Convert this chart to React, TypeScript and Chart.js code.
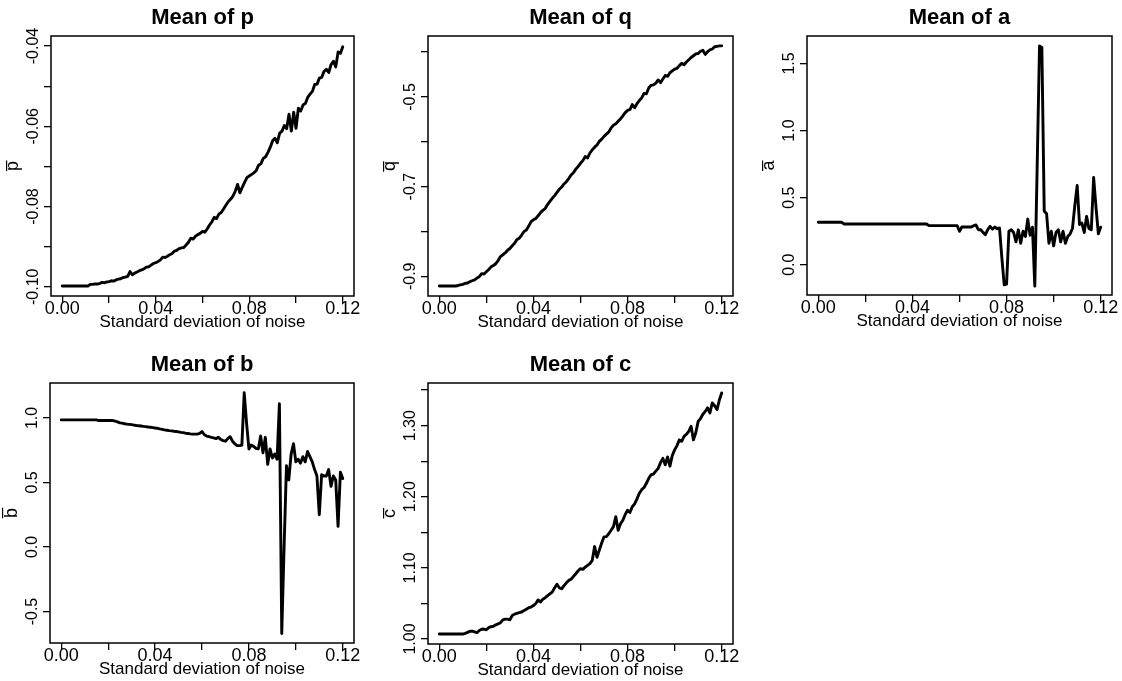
import React, { useEffect, useRef } from 'react';
import { Chart, registerables } from 'chart.js';

Chart.register(...registerables);

// ---------------- data ----------------
const noiseSD = [
  0.000, 0.001, 0.002, 0.003, 0.004, 0.005, 0.006, 0.007, 0.008, 0.009,
  0.010, 0.011, 0.012, 0.013, 0.014, 0.015, 0.016, 0.017, 0.018, 0.019,
  0.020, 0.021, 0.022, 0.023, 0.024, 0.025, 0.026, 0.027, 0.028, 0.029,
  0.030, 0.031, 0.032, 0.033, 0.034, 0.035, 0.036, 0.037, 0.038, 0.039,
  0.040, 0.041, 0.042, 0.043, 0.044, 0.045, 0.046, 0.047, 0.048, 0.049,
  0.050, 0.051, 0.052, 0.053, 0.054, 0.055, 0.056, 0.057, 0.058, 0.059,
  0.060, 0.061, 0.062, 0.063, 0.064, 0.065, 0.066, 0.067, 0.068, 0.069,
  0.070, 0.071, 0.072, 0.073, 0.074, 0.075, 0.076, 0.077, 0.078, 0.079,
  0.080, 0.081, 0.082, 0.083, 0.084, 0.085, 0.086, 0.087, 0.088, 0.089,
  0.090, 0.091, 0.092, 0.093, 0.094, 0.095, 0.096, 0.097, 0.098, 0.099,
  0.100, 0.101, 0.102, 0.103, 0.104, 0.105, 0.106, 0.107, 0.108, 0.109,
  0.110, 0.111, 0.112, 0.113, 0.114, 0.115, 0.116, 0.117, 0.118, 0.119,
  0.120,
];

const meanP = [
  -0.0998, -0.0998, -0.0998, -0.0998, -0.0998, -0.0998, -0.0998, -0.0998, -0.0998, -0.0998,
  -0.0998, -0.0998, -0.0994, -0.0994, -0.0993, -0.0993, -0.0992, -0.0989, -0.0990, -0.0988,
  -0.0987, -0.0985, -0.0986, -0.0983, -0.0981, -0.0980, -0.0977, -0.0976, -0.0974, -0.0962,
  -0.0970, -0.0966, -0.0963, -0.0960, -0.0958, -0.0955, -0.0951, -0.0950, -0.0946, -0.0942,
  -0.0940, -0.0937, -0.0933, -0.0926, -0.0927, -0.0924, -0.0920, -0.0917, -0.0911, -0.0909,
  -0.0905, -0.0903, -0.0902, -0.0896, -0.0889, -0.0879, -0.0881, -0.0874, -0.0870, -0.0867,
  -0.0862, -0.0864, -0.0856, -0.0846, -0.0838, -0.0827, -0.0830, -0.0819, -0.0815, -0.0806,
  -0.0797, -0.0788, -0.0782, -0.0774, -0.0762, -0.0745, -0.0766, -0.0752, -0.0740, -0.0728,
  -0.0724, -0.0720, -0.0716, -0.0710, -0.0697, -0.0693, -0.0680, -0.0676, -0.0665, -0.0652,
  -0.0636, -0.0630, -0.0641, -0.0617, -0.0612, -0.0598, -0.0606, -0.0570, -0.0612, -0.0565,
  -0.0605, -0.0555, -0.0562, -0.0547, -0.0543, -0.0528, -0.0520, -0.0513, -0.0496, -0.0495,
  -0.0480, -0.0478, -0.0463, -0.0458, -0.0466, -0.0446, -0.0438, -0.0452, -0.0415, -0.0418,
  -0.0402,
];

const meanQ = [
  -0.9216, -0.9216, -0.9216, -0.9216, -0.9216, -0.9216, -0.9216, -0.9216, -0.9205, -0.9190,
  -0.9180, -0.9160, -0.9150, -0.9120, -0.9100, -0.9080, -0.9040, -0.9010, -0.8940, -0.8950,
  -0.8900, -0.8850, -0.8790, -0.8760, -0.8720, -0.8650, -0.8560, -0.8520, -0.8480, -0.8420,
  -0.8380, -0.8320, -0.8260, -0.8180, -0.8150, -0.8080, -0.8000, -0.7970, -0.7880, -0.7780,
  -0.7740, -0.7710, -0.7650, -0.7580, -0.7530, -0.7490, -0.7400, -0.7330, -0.7260, -0.7200,
  -0.7130, -0.7060, -0.7010, -0.6940, -0.6890, -0.6820, -0.6740, -0.6690, -0.6610, -0.6550,
  -0.6480, -0.6420, -0.6330, -0.6360, -0.6250, -0.6180, -0.6120, -0.6070, -0.5990, -0.5940,
  -0.5880, -0.5830, -0.5780, -0.5690, -0.5630, -0.5600, -0.5540, -0.5490, -0.5420, -0.5350,
  -0.5300, -0.5280, -0.5170, -0.5240, -0.5150, -0.5080, -0.5020, -0.4920, -0.4930, -0.4800,
  -0.4740, -0.4730, -0.4690, -0.4620, -0.4680, -0.4600, -0.4520, -0.4540, -0.4460, -0.4420,
  -0.4380, -0.4360, -0.4300, -0.4250, -0.4280, -0.4220, -0.4170, -0.4120, -0.4080, -0.4040,
  -0.4030, -0.3980, -0.3960, -0.4050, -0.3990, -0.3950, -0.3930, -0.3880, -0.3870, -0.3860,
  -0.3860,
];

const meanA = [
  0.316, 0.316, 0.316, 0.316, 0.316, 0.316, 0.316, 0.316, 0.316, 0.316,
  0.316, 0.303, 0.303, 0.303, 0.303, 0.303, 0.303, 0.303, 0.303, 0.303,
  0.303, 0.303, 0.303, 0.303, 0.303, 0.303, 0.303, 0.303, 0.303, 0.303,
  0.303, 0.303, 0.303, 0.303, 0.303, 0.303, 0.303, 0.303, 0.303, 0.303,
  0.303, 0.303, 0.303, 0.303, 0.303, 0.303, 0.303, 0.291, 0.291, 0.291,
  0.291, 0.291, 0.291, 0.291, 0.291, 0.291, 0.291, 0.291, 0.291, 0.291,
  0.249, 0.281, 0.281, 0.281, 0.281, 0.281, 0.291, 0.296, 0.261, 0.261,
  0.241, 0.224, 0.261, 0.286, 0.265, 0.281, 0.268, 0.274, 0.050, -0.150,
  -0.145, 0.250, 0.260, 0.240, 0.170, 0.260, 0.160, 0.250, 0.210, 0.340,
  0.220, 0.280, -0.160, 0.730, 1.630, 1.620, 0.400, 0.380, 0.160, 0.250,
  0.140, 0.240, 0.260, 0.170, 0.250, 0.160, 0.210, 0.230, 0.270, 0.440,
  0.590, 0.300, 0.310, 0.240, 0.360, 0.270, 0.260, 0.650, 0.430, 0.230,
  0.280,
];

const meanB = [
  0.985, 0.985, 0.985, 0.985, 0.985, 0.985, 0.985, 0.985, 0.985, 0.985,
  0.985, 0.985, 0.985, 0.985, 0.985, 0.985, 0.980, 0.980, 0.980, 0.980,
  0.980, 0.980, 0.980, 0.975, 0.970, 0.962, 0.960, 0.955, 0.952, 0.950,
  0.948, 0.945, 0.942, 0.940, 0.938, 0.935, 0.933, 0.930, 0.928, 0.925,
  0.922, 0.920, 0.915, 0.912, 0.908, 0.905, 0.902, 0.900, 0.897, 0.895,
  0.892, 0.888, 0.886, 0.882, 0.880, 0.877, 0.875, 0.875, 0.875, 0.880,
  0.895, 0.870, 0.860, 0.855, 0.850, 0.846, 0.840, 0.850, 0.833, 0.825,
  0.820, 0.840, 0.855, 0.820, 0.800, 0.786, 0.786, 0.790, 1.195, 0.960,
  0.760, 0.790, 0.780, 0.765, 0.760, 0.860, 0.730, 0.850, 0.640, 0.760,
  0.690, 0.720, 0.680, 1.110, -0.670, 0.000, 0.630, 0.520, 0.720, 0.800,
  0.660, 0.680, 0.650, 0.700, 0.660, 0.740, 0.700, 0.660, 0.600, 0.550,
  0.250, 0.560, 0.550, 0.550, 0.600, 0.470, 0.550, 0.520, 0.160, 0.580,
  0.530,
];

const meanC = [
  1.007, 1.007, 1.007, 1.007, 1.007, 1.007, 1.007, 1.007, 1.007, 1.007,
  1.007, 1.008, 1.0094, 1.011, 1.011, 1.010, 1.009, 1.012, 1.0137, 1.014,
  1.013, 1.016, 1.0174, 1.018, 1.020, 1.0212, 1.023, 1.027, 1.028, 1.028,
  1.027, 1.033, 1.035, 1.036, 1.037, 1.038, 1.040, 1.042, 1.044, 1.045,
  1.047, 1.050, 1.055, 1.052, 1.056, 1.058, 1.061, 1.0636, 1.066, 1.072,
  1.077, 1.072, 1.0707, 1.075, 1.079, 1.0824, 1.084, 1.088, 1.0918, 1.096,
  1.099, 1.098, 1.101, 1.1036, 1.106, 1.1107, 1.130, 1.115, 1.125, 1.135,
  1.1437, 1.144, 1.148, 1.153, 1.158, 1.172, 1.153, 1.162, 1.167, 1.175,
  1.181, 1.178, 1.186, 1.190, 1.197, 1.205, 1.210, 1.213, 1.219, 1.226,
  1.231, 1.232, 1.236, 1.240, 1.248, 1.254, 1.245, 1.256, 1.243, 1.258,
  1.266, 1.272, 1.280, 1.278, 1.285, 1.288, 1.292, 1.299, 1.280, 1.290,
  1.306, 1.310, 1.316, 1.320, 1.325, 1.318, 1.332, 1.328, 1.3227, 1.336,
  1.346,
];

const xTickValues = [0.0, 0.02, 0.04, 0.06, 0.08, 0.1, 0.12];
const xTickLabels = ['0.00', '', '0.04', '', '0.08', '', '0.12'];

const pTicks = [-0.1, -0.09, -0.08, -0.07, -0.06, -0.05, -0.04];
const pTickLabels = ['-0.10', '', '-0.08', '', '-0.06', '', '-0.04'];
const qTicks = [-0.9, -0.8, -0.7, -0.6, -0.5, -0.4];
const qTickLabels = ['-0.9', '', '-0.7', '', '-0.5', ''];
const aTicks = [0.0, 0.5, 1.0, 1.5];
const aTickLabels = ['0.0', '0.5', '1.0', '1.5'];
const bTicks = [-0.5, 0.0, 0.5, 1.0];
const bTickLabels = ['-0.5', '0.0', '0.5', '1.0'];
const cTicks = [1.0, 1.05, 1.1, 1.15, 1.2, 1.25, 1.3, 1.35];
const cTickLabels = ['1.00', '', '1.10', '', '1.20', '', '1.30', ''];

const titles = ['Mean of p', 'Mean of q', 'Mean of a', 'Mean of b', 'Mean of c'];
const yTitles = ['p\u0305', 'q\u0305', 'a\u0305', 'b\u0305', 'c\u0305'];
const xTitle = 'Standard deviation of noise';

// ---------------- layout / style ----------------
const FONT = '"Liberation Sans", Arial, Helvetica, sans-serif';
const Y_TICK_SIZE = 16;
const X_TICK_SIZE = 18;
const LAB_SIZE = 17;
const TITLE_SIZE = 22;
const LEFT = 51;
const TOP = 36;
const RIGHT = 8;
const BOTTOM = 44;

type PanelSpec = {
  title: string;
  yTitle: string;
  values: number[];
  yMin: number;
  yMax: number;
  yTicks: number[];
  yLabels: string[];
  box: { L: number; T: number; R: number; B: number };
};

const panels: PanelSpec[] = [
  { title: titles[0], yTitle: yTitles[0], values: meanP, yMin: -0.1023, yMax: -0.0375, yTicks: pTicks, yLabels: pTickLabels, box: { L: 51, T: 36, R: 354, B: 296 } },
  { title: titles[1], yTitle: yTitles[1], values: meanQ, yMin: -0.944, yMax: -0.364, yTicks: qTicks, yLabels: qTickLabels, box: { L: 428, T: 36, R: 733, B: 296 } },
  { title: titles[2], yTitle: yTitles[2], values: meanA, yMin: -0.226, yMax: 1.705, yTicks: aTicks, yLabels: aTickLabels, box: { L: 807, T: 36, R: 1112, B: 295 } },
  { title: titles[3], yTitle: yTitles[3], values: meanB, yMin: -0.744, yMax: 1.271, yTicks: bTicks, yLabels: bTickLabels, box: { L: 50, T: 383, R: 354, B: 643 } },
  { title: titles[4], yTitle: yTitles[4], values: meanC, yMin: 0.993, yMax: 1.36, yTicks: cTicks, yLabels: cTickLabels, box: { L: 428, T: 383, R: 733, B: 644 } },
];

const boxPlugin = {
  id: 'rbox',
  afterDraw(chart: any) {
    const { ctx, chartArea: a } = chart;
    ctx.save();
    ctx.strokeStyle = '#000';
    ctx.lineWidth = 1.5;
    ctx.strokeRect(a.left, a.top, a.right - a.left, a.bottom - a.top);
    ctx.restore();
  },
};

function Panel({ spec }: { spec: PanelSpec }) {
  const ref = useRef<HTMLCanvasElement>(null);
  const { L, T, R, B } = spec.box;
  const w = R - L + LEFT + RIGHT;
  const h = B - T + TOP + BOTTOM;

  useEffect(() => {
    const canvas = ref.current;
    if (!canvas) return;
    const mctx = document.createElement('canvas').getContext('2d')!;
    mctx.font = `${Y_TICK_SIZE}px ${FONT}`;
    const widest = Math.max(...spec.yLabels.map((l) => mctx.measureText(l).width));
    const yPad = 10 - widest / 2;

    const grid = {
      display: true,
      drawOnChartArea: false,
      drawTicks: true,
      tickLength: 7,
      color: '#000',
      lineWidth: 1.3,
    };

    const chart = new Chart(canvas, {
      type: 'line',
      data: {
        datasets: [
          {
            data: noiseSD.map((x, i) => ({ x, y: spec.values[i] })),
            borderColor: '#000',
            borderWidth: 2.9,
            pointRadius: 0,
            fill: false,
            tension: 0,
            borderJoinStyle: 'round',
            borderCapStyle: 'round',
          },
        ],
      },
      options: {
        responsive: false,
        animation: false,
        events: [],
        layout: { padding: { left: 0, top: 0, right: RIGHT, bottom: 0 } },
        plugins: {
          legend: { display: false },
          tooltip: { enabled: false },
          title: {
            display: true,
            text: spec.title,
            fullSize: false,
            color: '#000',
            font: { family: FONT, size: TITLE_SIZE, weight: 'bold', lineHeight: 1.2 },
            padding: { top: 4.5, bottom: 5.1 },
          },
        },
        scales: {
          x: {
            type: 'linear',
            min: -0.0048,
            max: 0.1248,
            afterBuildTicks: (s: any) => {
              s.ticks = xTickValues.map((v) => ({ value: v }));
            },
            afterFit: (s: any) => {
              s.height = BOTTOM;
            },
            grid,
            border: { display: false },
            ticks: {
              autoSkip: false,
              maxRotation: 0,
              minRotation: 0,
              padding: -4.8,
              color: '#000',
              font: { family: FONT, size: X_TICK_SIZE, lineHeight: 1.2 },
              callback: (_v: any, i: number) => xTickLabels[i] ?? '',
            },
            title: {
              display: true,
              text: xTitle,
              color: '#000',
              font: { family: FONT, size: LAB_SIZE, lineHeight: 1.2 },
              padding: { top: 0, bottom: 7.8 },
            },
          },
          y: {
            type: 'linear',
            min: spec.yMin,
            max: spec.yMax,
            afterBuildTicks: (s: any) => {
              s.ticks = spec.yTicks.map((v) => ({ value: v }));
            },
            afterFit: (s: any) => {
              s.width = LEFT;
            },
            grid,
            border: { display: false },
            ticks: {
              autoSkip: false,
              minRotation: 90,
              maxRotation: 90,
              crossAlign: 'center',
              padding: yPad,
              color: '#000',
              font: { family: FONT, size: Y_TICK_SIZE, lineHeight: 1.2 },
              callback: (_v: any, i: number) => spec.yLabels[i] ?? '',
            },
            title: {
              display: true,
              text: spec.yTitle,
              color: '#000',
              font: { family: FONT, size: 18, lineHeight: 1.2 },
              padding: { top: 2.2, bottom: 0 },
            },
          },
        },
      } as any,
      plugins: [boxPlugin],
    });
    return () => chart.destroy();
  }, [spec]);

  return (
    <canvas
      ref={ref}
      width={w}
      height={h}
      style={{ position: 'absolute', left: L - LEFT, top: T - TOP, width: w, height: h }}
    />
  );
}

export default function App() {
  return (
    <div
      style={{
        position: 'fixed',
        left: 0,
        top: 0,
        width: 1122,
        height: 681,
        overflow: 'hidden',
        background: '#fff',
      }}
    >
      {panels.map((p) => (
        <Panel key={p.title} spec={p} />
      ))}
    </div>
  );
}
